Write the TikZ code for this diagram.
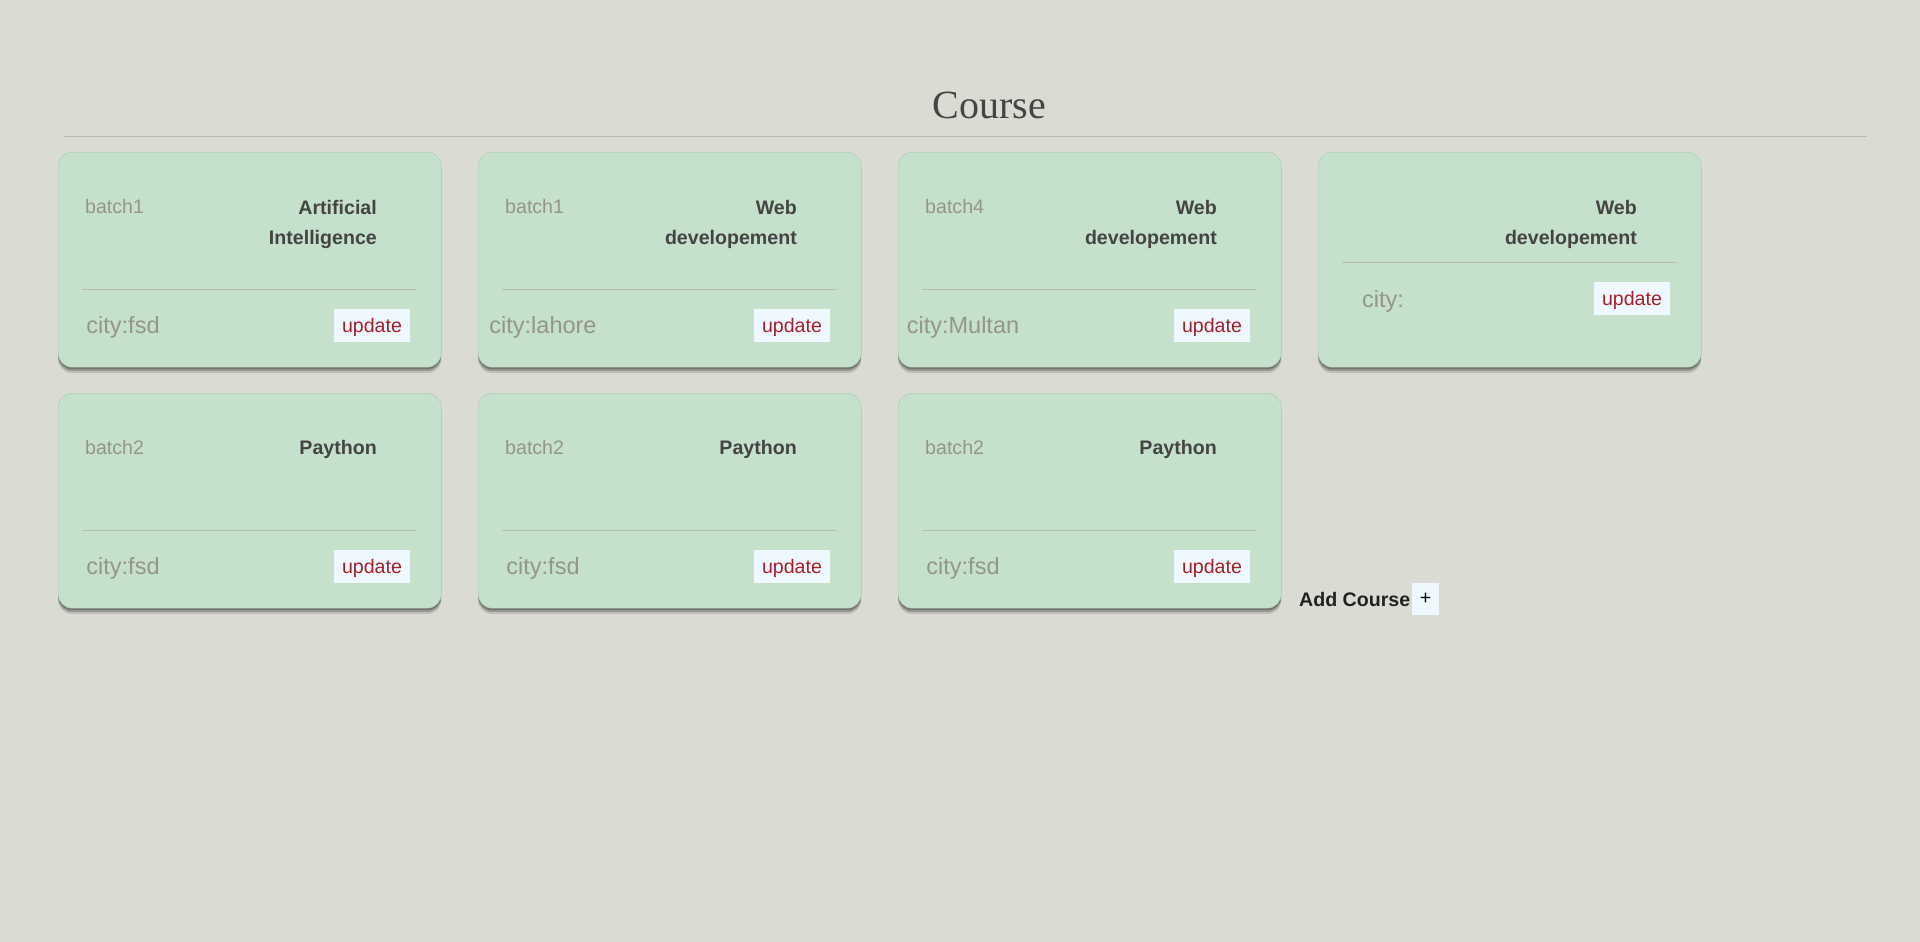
\documentclass[tikz,border=0pt]{standalone}
\usepackage{fontspec}
\setmainfont{Liberation Sans}
\newfontfamily\headfont{Liberation Serif}
\usetikzlibrary{shadows}

\definecolor{pagebg}{RGB}{218,220,212}
\definecolor{cardgreen}{RGB}{197,224,203}
\definecolor{cardline}{RGB}{172,198,178}
\definecolor{rulegrey}{RGB}{186,188,182}
\definecolor{softgrey}{RGB}{148,150,140}
\definecolor{darktxt}{RGB}{68,68,68}
\definecolor{updred}{RGB}{165,32,42}
\definecolor{btnbg}{RGB}{240,248,255}

\begin{document}
\begin{tikzpicture}[x=1pt, y=-1pt,
    card/.style={draw=cardline, fill=cardgreen, rounded corners=14pt, anchor=north west,
        minimum width=383pt, minimum height=215pt, inner sep=0pt,
        drop shadow={shadow xshift=0pt, shadow yshift=-6pt, opacity=.12, fill=black},
        drop shadow={shadow xshift=0pt, shadow yshift=-4pt, opacity=.2, fill=black},
        drop shadow={shadow xshift=0pt, shadow yshift=-2pt, opacity=.25, fill=black}},
    batchtxt/.style={anchor=west, inner sep=0pt, text=softgrey, font=\fontsize{19.6}{24}\selectfont},
    titletxt/.style={anchor=east, inner sep=0pt, align=right, text=darktxt, font=\bfseries\fontsize{19.6}{30}\selectfont},
    citytxt/.style={inner sep=0pt, text=softgrey, font=\fontsize{23.5}{28}\selectfont},
    updbtn/.style={fill=btnbg, text=updred, minimum width=76pt, minimum height=33pt, inner sep=0pt,
        text depth=0pt, font=\fontsize{19.6}{24}\selectfont},
    divider/.style={draw=rulegrey, line width=1pt}]
    \fill[pagebg] (0,0) rectangle (1920,942);
    \useasboundingbox (0,0) rectangle (1920,942);

    \node[anchor=base, text=darktxt, font=\headfont\fontsize{40}{48}\selectfont] (head) at (989.5,118) {Course};
    \draw[divider] (64,136) -- (1867,136);

    % first row
    \node[card] (c1) at (58,152) {};
    \node[batchtxt] (b1) at (85,206) {batch1};
    \node[titletxt] (t1) at (377,224) {Artificial\\Intelligence};
    \draw[divider] (82,289) -- (417,289);
    \node[citytxt] (k1) at (123,327) {city:fsd};
    \node[updbtn] (u1) at (372,325.5) {update};

    \node[card] (c2) at (478,152) {};
    \node[batchtxt] (b2) at (505,206) {batch1};
    \node[titletxt] (t2) at (797,224) {Web\\developement};
    \draw[divider] (502,289) -- (837,289);
    \node[citytxt] (k2) at (543,327) {city:lahore};
    \node[updbtn] (u2) at (792,325.5) {update};

    \node[card] (c3) at (898,152) {};
    \node[batchtxt] (b3) at (925,206) {batch4};
    \node[titletxt] (t3) at (1217,224) {Web\\developement};
    \draw[divider] (922,289) -- (1257,289);
    \node[citytxt] (k3) at (963,327) {city:Multan};
    \node[updbtn] (u3) at (1212,325.5) {update};

    \node[card] (c4) at (1318,152) {};
    \node[titletxt] (t4) at (1637,224) {Web\\developement};
    \draw[divider] (1342,262) -- (1677,262);
    \node[citytxt] (k4) at (1383,301) {city:};
    \node[updbtn] (u4) at (1632,298.5) {update};

    % second row
    \node[card] (c5) at (58,393) {};
    \node[batchtxt] (b5) at (85,447) {batch2};
    \node[titletxt] (t5) at (377,449) {Paython};
    \draw[divider] (82,530) -- (417,530);
    \node[citytxt] (k5) at (123,568) {city:fsd};
    \node[updbtn] (u5) at (372,566.5) {update};

    \node[card] (c6) at (478,393) {};
    \node[batchtxt] (b6) at (505,447) {batch2};
    \node[titletxt] (t6) at (797,449) {Paython};
    \draw[divider] (502,530) -- (837,530);
    \node[citytxt] (k6) at (543,568) {city:fsd};
    \node[updbtn] (u6) at (792,566.5) {update};

    \node[card] (c7) at (898,393) {};
    \node[batchtxt] (b7) at (925,447) {batch2};
    \node[titletxt] (t7) at (1217,449) {Paython};
    \draw[divider] (922,530) -- (1257,530);
    \node[citytxt] (k7) at (963,568) {city:fsd};
    \node[updbtn] (u7) at (1212,566.5) {update};

    \node[anchor=west, inner sep=0pt, text=black!87, font=\bfseries\fontsize{19.6}{24}\selectfont] (add) at (1299,599) {Add Course};
    \node[fill=btnbg, minimum width=27pt, minimum height=32pt, inner sep=0pt, text depth=0pt, font=\fontsize{19.6}{24}\selectfont] (plus) at (1425.5,599) {+};
\end{tikzpicture}
\end{document}
